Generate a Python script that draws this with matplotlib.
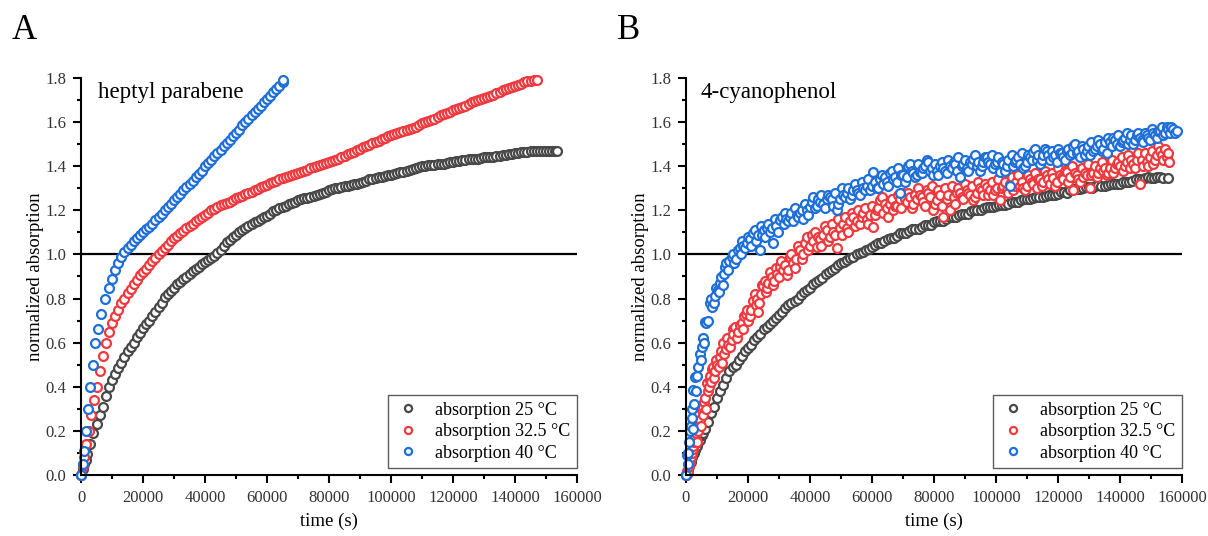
import numpy as np
import matplotlib
matplotlib.use("Agg")
import matplotlib.pyplot as plt

plt.rcParams['font.family'] = ['Liberation Serif', 'DejaVu Serif']

# ---------------- data (time in ks, normalized absorption) ----------------
# Panel A, 25 °C
a_gray_t = [0, 0.5, 1, 1.5, 2, 3, 4, 5, 6, 7, 8, 9, 10, 11, 12, 13, 14, 15, 16, 17, 18, 19, 20,
            21, 22, 23, 24, 25, 26, 27, 28, 29, 30, 31, 32, 33, 34, 35, 36, 37, 38, 39, 40, 41, 42,
            43, 44, 45, 46, 47, 48, 49,
            50, 51, 52, 53, 54, 55, 56, 57, 58, 59, 60, 61, 62, 63, 64, 65, 66, 67, 68, 69, 70,
            71, 72, 73, 74, 75, 76, 77, 78, 79, 80, 81, 82, 83, 84, 85, 86, 87, 88, 89, 90,
            91, 92, 93, 94, 95, 96, 97, 98, 99, 100, 101, 102, 103, 104, 105, 106, 107, 108,
            109, 110, 111, 112, 113, 114, 115, 116, 117, 118, 119, 120, 121, 122, 123, 124,
            125, 126, 127, 128, 129, 130, 131, 132, 133, 134, 135, 136, 137, 138, 139, 140,
            141, 142, 143, 144, 145, 146, 147, 148, 149, 150, 151, 152, 153, 153.5]
a_gray_y = [0, 0.025, 0.05, 0.07, 0.095, 0.14, 0.19, 0.23, 0.27, 0.31, 0.36, 0.40, 0.43, 0.46,
            0.485, 0.51, 0.535, 0.56, 0.58, 0.60, 0.625, 0.645, 0.665, 0.685, 0.70, 0.72, 0.74,
            0.76, 0.78, 0.805, 0.82, 0.835, 0.85, 0.865, 0.875, 0.89, 0.90, 0.91, 0.925, 0.935,
            0.945, 0.955, 0.965, 0.975, 0.985, 0.995, 1.005, 1.02, 1.04, 1.055, 1.065, 1.08,
            1.09, 1.10, 1.11, 1.12, 1.13, 1.14, 1.145, 1.15, 1.16, 1.17, 1.175, 1.185, 1.195,
            1.20, 1.21, 1.215, 1.22, 1.23, 1.235, 1.24, 1.245, 1.25, 1.255, 1.258, 1.26, 1.265,
            1.27, 1.275, 1.28, 1.285, 1.29, 1.295, 1.30, 1.30, 1.305, 1.31, 1.31, 1.315, 1.32,
            1.32, 1.325, 1.33, 1.335, 1.34, 1.34, 1.345, 1.35, 1.352, 1.355, 1.358, 1.36, 1.365,
            1.37, 1.372, 1.375, 1.38, 1.385, 1.388, 1.39, 1.395, 1.40, 1.402, 1.405, 1.405,
            1.405, 1.41, 1.41, 1.412, 1.415, 1.418, 1.42, 1.422, 1.425, 1.428, 1.43, 1.432,
            1.435, 1.435, 1.435, 1.438, 1.44, 1.44, 1.44, 1.443, 1.445, 1.448, 1.45, 1.452,
            1.455, 1.457, 1.46, 1.462, 1.465, 1.465, 1.465, 1.468, 1.47, 1.47, 1.47, 1.47,
            1.47, 1.47, 1.47, 1.47, 1.47]

# Panel A, 32.5 °C
a_red_t = [0, 0.5, 1, 1.7, 2.5, 3.3, 4.1, 5, 6, 7, 8, 9, 10, 11, 12, 13, 14, 15, 16, 17, 18, 19,
           20, 21, 22, 23, 24, 25, 26, 27, 28, 29,
           30, 31, 32, 33, 34, 35, 36, 37, 38, 39, 40, 41, 42, 43, 44, 45, 46, 47, 48, 49, 50,
           51, 52, 53, 54, 55, 56, 57, 58, 59, 60, 61, 62, 63, 64, 65, 66, 67, 68, 69, 70, 71,
           72, 73, 74, 75, 76, 77, 78, 79, 80, 81, 82, 83, 84, 85, 86, 87, 88, 89, 90, 91, 92,
           93, 94, 95, 96, 97, 98, 99, 100, 101, 102, 103, 104, 105, 106, 107, 108, 109, 110,
           111, 112, 113, 114, 115, 116, 117, 118, 119, 120, 121, 122, 123, 124, 125, 126, 127,
           128, 129, 130, 131, 132, 133, 134, 135, 136, 137, 138, 139, 140, 141, 142, 143, 144,
           145, 146, 147]
a_red_y = [0, 0.04, 0.08, 0.14, 0.20, 0.27, 0.34, 0.40, 0.47, 0.54, 0.60, 0.65, 0.69, 0.72, 0.75,
           0.78, 0.80, 0.825, 0.845, 0.865, 0.885, 0.905, 0.92, 0.935, 0.95, 0.97, 0.985, 1.0,
           1.015, 1.03, 1.045, 1.06,
           1.075, 1.085, 1.095, 1.108, 1.12, 1.13, 1.14, 1.15, 1.16, 1.17, 1.18, 1.19, 1.20,
           1.208, 1.215, 1.222, 1.23, 1.235, 1.24, 1.248, 1.255, 1.26, 1.265, 1.272, 1.28,
           1.285, 1.29, 1.298, 1.305, 1.31, 1.315, 1.322, 1.33, 1.335, 1.34, 1.345, 1.35, 1.355,
           1.36, 1.365, 1.37, 1.375, 1.38, 1.385, 1.39, 1.395, 1.40, 1.405, 1.41, 1.415, 1.42,
           1.425, 1.43, 1.435, 1.44, 1.448, 1.455, 1.46, 1.465, 1.472, 1.48, 1.485, 1.49, 1.498,
           1.505, 1.51, 1.515, 1.522, 1.53, 1.535, 1.54, 1.545, 1.55, 1.555, 1.56, 1.565, 1.57,
           1.575, 1.58, 1.588, 1.595, 1.60, 1.605, 1.61, 1.615, 1.622, 1.63, 1.635, 1.64, 1.648,
           1.655, 1.66, 1.665, 1.67, 1.675, 1.682, 1.69, 1.695, 1.70, 1.705, 1.71, 1.715, 1.72,
           1.725, 1.73, 1.738, 1.745, 1.75, 1.755, 1.76, 1.765, 1.77, 1.775, 1.78, 1.785, 1.788,
           1.79, 1.79]

# Panel A, 40 °C
a_blue_t = [0, 0.5, 1, 1.7, 2.3, 3, 3.8, 4.6, 5.5, 6.5, 7.9, 9, 10, 11, 12, 13, 14, 15, 16, 17,
            18, 19, 20, 21, 22, 23, 24, 25, 26, 27, 28, 29, 30, 31, 32, 33, 34, 35, 36, 37, 38,
            39, 40, 41, 42, 43, 44, 45, 46, 47, 48, 49, 50, 51, 52, 53, 54, 55, 56, 57, 58, 59,
            60, 61, 62, 63, 64, 65, 65.3]
a_blue_y = [0, 0.05, 0.11, 0.20, 0.30, 0.40, 0.50, 0.60, 0.66, 0.73, 0.80, 0.85, 0.89, 0.93,
            0.96, 0.99, 1.01, 1.03, 1.045, 1.06, 1.075, 1.09, 1.10, 1.115, 1.125, 1.14, 1.155,
            1.17, 1.185, 1.20, 1.215, 1.23, 1.245, 1.26, 1.275, 1.29, 1.305, 1.32, 1.335, 1.35,
            1.365, 1.38, 1.40, 1.415, 1.43, 1.445, 1.46, 1.475, 1.49, 1.505, 1.52, 1.535, 1.55,
            1.565, 1.585, 1.60, 1.615, 1.63, 1.645, 1.66, 1.675, 1.69, 1.705, 1.72, 1.735, 1.75,
            1.765, 1.78, 1.79]

# Panel B, 25 °C
b_gray_t = [0, 0.5, 1, 1.5, 2, 2.5, 3, 3.5, 4, 4.5, 5, 5.5, 6, 7, 8, 9, 10, 11, 12, 13, 14, 15,
            16, 17, 18, 19, 20, 21, 22, 23, 24, 25, 26, 27, 28, 29, 30, 31, 32, 33, 34, 35, 36,
            37, 38, 39, 40, 41, 42, 43, 44, 45, 46, 47, 48, 49, 50, 51, 52, 53, 54, 55, 56, 57,
            58, 59, 60, 62, 64, 66, 68, 70, 72, 74, 76, 78, 80, 82, 84, 86, 88, 90, 92, 94, 96,
            98, 100, 102, 104, 106, 108, 110, 112, 114, 116, 118, 120, 122, 124, 126, 128, 130,
            132, 134, 136, 138, 140, 142, 144, 146, 148, 150, 152, 154, 155.5,
            61, 63, 65, 67, 69, 71, 73, 75, 77, 79, 81, 83, 85, 87, 89, 91, 93, 95, 97, 99, 101,
            103, 105, 107, 109, 111, 113, 115, 117, 119, 121, 123, 125, 127, 129, 131, 133, 135,
            137, 139, 141, 143, 145, 147, 149, 151, 153]
b_gray_y = [0, 0.02, 0.04, 0.06, 0.08, 0.10, 0.115, 0.13, 0.15, 0.16, 0.18, 0.19, 0.21, 0.24,
            0.28, 0.31, 0.35, 0.38, 0.41, 0.44, 0.47, 0.49, 0.50, 0.52, 0.54, 0.56, 0.575, 0.59,
            0.61, 0.625, 0.64, 0.66, 0.67, 0.685, 0.70, 0.71, 0.725, 0.74, 0.755, 0.77, 0.78,
            0.79, 0.80, 0.815, 0.83, 0.84, 0.85, 0.865, 0.875, 0.885, 0.895, 0.91, 0.92, 0.93,
            0.94, 0.95, 0.96, 0.965, 0.975, 0.985, 0.99, 1.0, 1.005, 1.01, 1.02, 1.025, 1.035,
            1.05, 1.06, 1.075, 1.085, 1.095, 1.105, 1.115, 1.125, 1.135, 1.145, 1.15, 1.16, 1.17,
            1.18, 1.185, 1.195, 1.20, 1.21, 1.215, 1.22, 1.225, 1.23, 1.24, 1.245, 1.25, 1.255,
            1.26, 1.265, 1.27, 1.275, 1.285, 1.29, 1.295, 1.30, 1.305, 1.31, 1.31, 1.315, 1.32,
            1.32, 1.33, 1.335, 1.34, 1.345, 1.345, 1.35, 1.345, 1.345,
            1.045, 1.05, 1.07, 1.075, 1.095, 1.095, 1.115, 1.115, 1.135, 1.135, 1.15, 1.15, 1.17,
            1.17, 1.185, 1.185, 1.20, 1.20, 1.215, 1.215, 1.225, 1.225, 1.24, 1.24, 1.25, 1.25,
            1.26, 1.26, 1.27, 1.27, 1.285, 1.28, 1.295, 1.295, 1.305, 1.30, 1.315, 1.31, 1.32,
            1.32, 1.33, 1.33, 1.34, 1.34, 1.35, 1.345, 1.35]

# Panel B, 32.5 °C
b_red_t = [0, 0.7, 1.3, 1.8, 2.4, 3, 3.5, 4, 4.6, 5.1, 5.6, 6.2, 6.7, 7.3, 7.8, 8.8, 9.4, 10, 11,
           11.5, 12, 12.8, 13.6, 14.7, 15.3, 15.8, 16.9, 18, 18.8, 19.6, 20.5, 21.7, 22.5, 23.3,
           24.1, 24.9, 25.8, 26.6, 27.6, 28.5, 29.4, 30.3, 31.2, 32.5, 33.5, 34.5, 35.6, 36.8,
           37.8, 38.9, 40, 41.1, 42.2, 43.2, 44.3, 45.4, 46.5, 47.5, 48.6, 49.7, 50.7, 51.8,
           52.9, 54, 55.1, 56.1, 57.2, 58.3, 59.4, 60.4, 61.5, 62.6, 63.7, 64.7, 65.8, 66.9, 68,
           69, 70.1, 71.2, 72.3, 73.3, 74.4, 75.5, 76.6, 77.6, 78.7, 79.8, 80.9, 82, 83, 84.1,
           85.2, 86.3, 87.3, 88.4, 89.5, 90.6, 91.6, 92.7, 93.8, 94.8, 95.9, 97, 98.1, 99.1,
           100.2, 101.3, 102.4, 103.4, 104.5, 105.6, 106.6, 107.7, 108.8, 109.9, 110.9, 112,
           113.1, 114.2, 115.2, 116.4, 117.4, 118.5, 119.6, 120.6, 121.7, 122.8, 123.9, 124.9,
           126, 127.1, 128.2, 129.3, 130.3, 131.4, 132.5, 133.5, 134.6, 135.7, 136.8, 137.8,
           138.9, 140, 141.1, 142.2, 143.2, 144.3, 145.4, 146.5, 147.5, 148.6, 149.7, 150.7,
           151.8, 152.9, 154, 155, 155.8]
b_red_y = [0, 0.01, 0.06, 0.10, 0.13, 0.17, 0.15, 0.20, 0.25, 0.295, 0.27, 0.35, 0.415, 0.40,
           0.45, 0.49, 0.47, 0.50, 0.536, 0.51, 0.60, 0.57, 0.59, 0.61, 0.64, 0.67, 0.65, 0.69,
           0.72, 0.75, 0.72, 0.79, 0.77, 0.74, 0.82, 0.855, 0.83, 0.87, 0.90, 0.88, 0.91, 0.945,
           0.93, 0.905, 0.99, 0.96, 0.98, 1.02, 1.0, 1.08, 1.04, 1.06, 1.035, 1.07, 1.09, 1.11,
           1.08, 1.10, 1.028, 1.12, 1.14, 1.12, 1.15, 1.17, 1.15, 1.14, 1.186, 1.16, 1.18,
           1.126, 1.20, 1.246, 1.19, 1.21, 1.23, 1.20, 1.22, 1.25, 1.277, 1.24, 1.26, 1.23,
           1.25, 1.27, 1.24, 1.29, 1.26, 1.20, 1.246, 1.27, 1.17, 1.25, 1.20, 1.26, 1.28,
           1.277, 1.25, 1.29, 1.27, 1.246, 1.28, 1.30, 1.27, 1.307, 1.29, 1.27, 1.30, 1.246,
           1.31, 1.29, 1.32, 1.29, 1.33, 1.31, 1.30, 1.31, 1.34, 1.32, 1.30, 1.34, 1.33, 1.36,
           1.32, 1.345, 1.33, 1.36, 1.34, 1.375, 1.35, 1.29, 1.36, 1.33, 1.35, 1.36, 1.30,
           1.37, 1.35, 1.39, 1.38, 1.36, 1.39, 1.37, 1.41, 1.40, 1.38, 1.42, 1.39, 1.41, 1.43,
           1.32, 1.40, 1.42, 1.44, 1.41, 1.45, 1.47, 1.43, 1.44, 1.42]
b_red_t2 = [0.3, 1.0, 1.6, 2.1, 2.7, 3.3, 4.3, 4.9, 5.4, 5.9, 6.4, 7.0, 7.6, 8.2, 8.5, 9.1, 9.7,
            10.5, 11.2, 12.4, 13.2, 14.1, 15.0, 16.3, 17.4, 18.4, 19.2, 20.1, 21.1, 22.1, 22.9,
            23.7, 24.5, 25.4, 26.2, 27.1, 28.0, 28.9, 29.9, 30.8, 31.8, 33.0, 34.0, 35.0, 36.2,
            37.3, 38.3, 39.4, 40.5, 41.6, 42.7, 43.7, 44.8, 45.9, 47.0, 48.0, 49.1, 50.2, 51.2,
            52.4, 53.5, 54.5, 55.6, 56.7, 57.7, 58.8, 59.9, 60.9, 62.0, 63.1, 64.2, 65.2, 66.3,
            67.4, 68.5, 69.5, 70.6, 71.7, 72.8, 73.8, 74.9, 76.0, 77.1, 78.1, 79.2, 80.3, 81.4,
            82.5, 83.5, 84.6, 85.7, 86.8, 87.8, 88.9, 90.0, 91.1, 92.2, 93.2, 94.3, 95.4, 96.4,
            97.5, 98.6, 99.7, 100.7, 101.8, 102.9, 104.0, 105.0, 106.1, 107.2, 108.3, 109.4,
            110.4, 111.5, 112.6, 113.6, 114.7, 115.8, 116.9, 118.0, 119.0, 120.1, 121.2, 122.3,
            123.3, 124.4, 125.5, 126.5, 127.6, 128.7, 129.8, 130.8, 131.9, 133.0, 134.1, 135.1,
            136.2, 137.3, 138.4, 139.4, 140.5, 141.6, 142.7, 143.7, 144.8, 145.9, 147.0, 148.0,
            149.1, 150.2, 151.3, 152.3, 153.4, 154.5, 155.4]
b_red_y2 = [0.02, 0.04, 0.08, 0.12, 0.15, 0.19, 0.23, 0.22, 0.31, 0.33, 0.30, 0.38, 0.43, 0.42,
            0.48, 0.44, 0.52, 0.49, 0.56, 0.55, 0.62, 0.58, 0.66, 0.62, 0.68, 0.66, 0.73, 0.70,
            0.75, 0.82, 0.80, 0.78, 0.86, 0.88, 0.85, 0.92, 0.86, 0.94, 0.90, 0.97, 0.95, 0.93,
            1.00, 0.94, 1.04, 0.98, 1.05, 1.02, 1.09, 1.10, 1.08, 1.04, 1.13, 1.06, 1.14, 1.09,
            1.16, 1.09, 1.17, 1.10, 1.19, 1.13, 1.20, 1.17, 1.21, 1.14, 1.22, 1.18, 1.21, 1.26,
            1.23, 1.17, 1.25, 1.22, 1.27, 1.21, 1.25, 1.28, 1.21, 1.27, 1.30, 1.26, 1.22, 1.28,
            1.31, 1.23, 1.29, 1.22, 1.30, 1.27, 1.31, 1.23, 1.30, 1.26, 1.32, 1.28, 1.31, 1.26,
            1.33, 1.29, 1.32, 1.27, 1.33, 1.29, 1.34, 1.30, 1.33, 1.28, 1.35, 1.31, 1.36, 1.33,
            1.29, 1.36, 1.33, 1.37, 1.34, 1.31, 1.38, 1.34, 1.37, 1.31, 1.39, 1.35, 1.38, 1.33,
            1.40, 1.37, 1.34, 1.39, 1.37, 1.41, 1.36, 1.40, 1.37, 1.42, 1.39, 1.37, 1.43, 1.39,
            1.42, 1.44, 1.40, 1.45, 1.43, 1.39, 1.46, 1.43, 1.46, 1.40, 1.47, 1.43, 1.49, 1.45,
            1.48, 1.46]

# Panel B, 40 °C
b_blue_t = [0, 0.2, 0.8, 1.3, 1.8, 2.1, 2.4, 2.7, 2.9, 3.3, 4.0, 4.5, 4.8, 5.6, 6.1, 6.6, 7.7,
            8.4, 9.4, 10.2, 11, 11.8, 12.6, 13.5, 14.7, 15.5, 16.9, 17.8, 18.5, 19.6, 20.5, 21.7,
            22.6, 23.9, 24.5, 25.2, 26, 27, 28.2, 29, 30.3, 31.5, 32.4, 33.5, 34.6, 35.7, 36.8,
            37.9, 39, 40, 41.1, 42.2, 43.2, 44.3, 45.4, 46.5, 47.5, 48.6, 49.7, 50.7, 51.8, 53,
            54, 55.1, 56.2, 57.2, 58.3, 59.4, 60.4, 61.5, 62.6, 63.7, 64.7, 65.8, 66.9, 68, 69,
            70.1, 71.2, 72.3, 73.3, 74.4, 75.5, 76.6, 77.6, 78.7, 79.8, 80.9, 82, 83, 84.1, 85.2,
            86.3, 87.3, 88.4, 89.5, 90.6, 91.6, 92.7, 93.8, 94.8, 95.9, 97, 98.1, 99.1, 100.2,
            101.3, 102.4, 103.4, 104.5, 105.6, 106.6, 107.7, 108.8, 109.9, 110.9, 112, 113.1,
            114.2, 115.2, 116.4, 117.4, 118.5, 119.6, 120.6, 121.7, 122.8, 123.9, 124.9, 126,
            127.1, 128.2, 129.3, 130.3, 131.4, 132.5, 133.5, 134.6, 135.7, 136.8, 137.8, 138.9,
            140, 141.1, 142.2, 143.2, 144.3, 145.4, 146.5, 147.5, 148.6, 149.7, 150.7, 151.8,
            152.9, 154, 155, 156, 157, 158.3]
b_blue_y = [0, 0.09, 0.10, 0.20, 0.26, 0.21, 0.385, 0.32, 0.445, 0.38, 0.49, 0.55, 0.52, 0.62,
            0.695, 0.69, 0.78, 0.76, 0.81, 0.84, 0.87, 0.86, 0.945, 0.93, 0.99, 0.96, 1.02, 1.0,
            1.04, 1.05, 1.07, 1.096, 1.06, 1.02, 1.09, 1.11, 1.12, 1.10, 1.05, 1.13, 1.156, 1.14,
            1.16, 1.17, 1.15, 1.18, 1.186, 1.16, 1.20, 1.216, 1.26, 1.22, 1.24, 1.23, 1.25, 1.26,
            1.22, 1.20, 1.25, 1.27, 1.28, 1.25, 1.29, 1.29, 1.27, 1.30, 1.31, 1.29, 1.375, 1.30,
            1.34, 1.32, 1.33, 1.37, 1.34, 1.33, 1.28, 1.36, 1.35, 1.41, 1.37, 1.36, 1.375, 1.39,
            1.43, 1.38, 1.36, 1.38, 1.40, 1.39, 1.37, 1.40, 1.42, 1.38, 1.35, 1.41, 1.39, 1.42,
            1.435, 1.40, 1.38, 1.42, 1.44, 1.41, 1.39, 1.42, 1.375, 1.41, 1.40, 1.31, 1.40, 1.43,
            1.41, 1.39, 1.42, 1.44, 1.466, 1.43, 1.41, 1.45, 1.47, 1.43, 1.44, 1.42, 1.46, 1.44,
            1.47, 1.45, 1.49, 1.46, 1.44, 1.48, 1.47, 1.45, 1.47, 1.49, 1.50, 1.48, 1.46, 1.51,
            1.53, 1.50, 1.49, 1.52, 1.55, 1.52, 1.50, 1.54, 1.53, 1.51, 1.54, 1.52, 1.55, 1.53,
            1.56, 1.54, 1.58, 1.55, 1.57, 1.56]
b_blue_t2 = [0.5, 1.0, 1.5, 2.0, 3.6, 5.2, 5.9, 7.0, 8.0, 8.9, 9.8, 10.6, 11.4, 12.2, 13.0, 14.0,
             15.1, 16.2, 17.3, 18.2, 19.0, 20.0, 21.1, 22.1, 23.2, 24.2, 25.6, 26.5, 27.6, 28.6,
             29.6, 30.9, 31.9, 33.0, 34.0, 35.1, 36.2, 37.3, 38.4, 39.5, 40.5, 41.6, 42.7, 43.7,
             44.8, 45.9, 47.0, 48.0, 49.1, 50.2, 51.2, 52.4, 53.5, 54.5, 55.6, 56.7, 57.7, 58.8,
             59.9, 60.9, 62.0, 63.1, 64.2, 65.2, 66.3, 67.4, 68.5, 69.5, 70.6, 71.7, 72.8, 73.8,
             74.9, 76.0, 77.1, 78.1, 79.2, 80.3, 81.4, 82.5, 83.5, 84.6, 85.7, 86.8, 87.8, 88.9,
             90.0, 91.1, 92.2, 93.2, 94.3, 95.4, 96.4, 97.5, 98.6, 99.7, 100.7, 101.8, 102.9,
             104.0, 105.0, 106.1, 107.2, 108.3, 109.4, 110.4, 111.5, 112.6, 113.6, 114.7, 115.8,
             116.9, 118.0, 119.0, 120.1, 121.2, 122.3, 123.3, 124.4, 125.5, 126.5, 127.6, 128.7,
             129.8, 130.8, 131.9, 133.0, 134.1, 135.1, 136.2, 137.3, 138.4, 139.4, 140.5, 141.6,
             142.7, 143.7, 144.8, 145.9, 147.0, 148.0, 149.1, 150.2, 151.3, 152.3, 153.4, 154.5,
             155.6, 156.6, 157.6]
b_blue_y2 = [0.05, 0.15, 0.22, 0.30, 0.45, 0.58, 0.60, 0.70, 0.80, 0.78, 0.85, 0.83, 0.90, 0.91,
             0.96, 0.97, 1.00, 0.98, 1.03, 1.06, 1.03, 1.08, 1.04, 1.11, 1.09, 1.13, 1.08, 1.14,
             1.12, 1.16, 1.10, 1.17, 1.19, 1.15, 1.19, 1.21, 1.17, 1.20, 1.23, 1.18, 1.24, 1.21,
             1.25, 1.27, 1.21, 1.27, 1.25, 1.28, 1.23, 1.30, 1.26, 1.30, 1.27, 1.32, 1.28, 1.33,
             1.29, 1.34, 1.31, 1.33, 1.30, 1.36, 1.35, 1.31, 1.38, 1.35, 1.39, 1.36, 1.33, 1.40,
             1.38, 1.35, 1.41, 1.37, 1.40, 1.42, 1.39, 1.41, 1.36, 1.42, 1.38, 1.43, 1.39, 1.41,
             1.44, 1.40, 1.43, 1.38, 1.41, 1.45, 1.42, 1.40, 1.44, 1.42, 1.45, 1.41, 1.44, 1.42,
             1.38, 1.43, 1.45, 1.42, 1.44, 1.46, 1.40, 1.45, 1.43, 1.48, 1.45, 1.43, 1.48, 1.45,
             1.47, 1.45, 1.48, 1.46, 1.43, 1.48, 1.46, 1.50, 1.47, 1.49, 1.45, 1.49, 1.51, 1.48,
             1.52, 1.47, 1.51, 1.53, 1.49, 1.52, 1.54, 1.51, 1.53, 1.50, 1.54, 1.52, 1.55, 1.52,
             1.55, 1.53, 1.57, 1.54, 1.56, 1.58, 1.55, 1.57, 1.58, 1.55]

labels = ['absorption 25 °C', 'absorption 32.5 °C', 'absorption 40 °C']
colors = ['#484848', '#ee3a3f', '#1f6fd8']


def merged(t1, y1, t2=(), y2=()):
    t = np.concatenate([np.asarray(t1, float), np.asarray(t2, float)])
    y = np.concatenate([np.asarray(y1, float), np.asarray(y2, float)])
    order = np.argsort(t, kind='stable')
    return t[order] * 1000, y[order]


panels = [
    ('A', 'heptyl parabene', [merged(a_gray_t, a_gray_y), merged(a_red_t, a_red_y),
                              merged(a_blue_t, a_blue_y)]),
    ('B', '4-cyanophenol', [merged(b_gray_t, b_gray_y), merged(b_red_t, b_red_y, b_red_t2, b_red_y2),
                            merged(b_blue_t, b_blue_y, b_blue_t2, b_blue_y2)]),
]
xticks = [0, 20000, 40000, 60000, 80000, 100000, 120000, 140000, 160000]
yticks = [0.0, 0.2, 0.4, 0.6, 0.8, 1.0, 1.2, 1.4, 1.6, 1.8]

# ---------------- figure ----------------
fig = plt.figure(figsize=(12.08, 5.36), dpi=100)
W, H = 1208, 536
lefts = [81, 686]
letter_x = [12, 617]

for i, (letter, title, series) in enumerate(panels):
    ax = fig.add_axes([lefts[i] / W, (H - 475) / H, 496 / W, 397 / H])
    for (t, y), c, lab in zip(series, colors, labels):
        ax.plot(t, y, linestyle='none', marker='o', ms=6.4, mew=1.6,
                mec=c, mfc='white', label=lab, clip_on=False)
    ax.axhline(1.0, color='black', lw=1.6, zorder=1)
    ax.set_xlim(0, 160000)
    ax.set_ylim(0, 1.8)
    ax.set_xticks(xticks)
    ax.set_xticklabels([str(v) for v in xticks])
    ax.set_yticks(yticks)
    ax.set_yticklabels([f'{v:.1f}' for v in yticks])
    ax.set_xticks(np.arange(10000, 160000, 20000), minor=True)
    ax.set_yticks(np.arange(0.1, 1.8, 0.2), minor=True)
    for s in ['top', 'right']:
        ax.spines[s].set_visible(False)
    for s in ['left', 'bottom']:
        ax.spines[s].set_linewidth(1.5)
    ax.tick_params(which='major', direction='out', length=5.5, width=1.5,
                   labelsize=12, pad=5, colors='black', labelcolor='#333333')
    ax.tick_params(which='minor', direction='out', length=3, width=1.5)
    ax.set_xlabel('time (s)', fontsize=13.5)
    ax.set_ylabel('normalized absorption', fontsize=13.5)
    ax.xaxis.set_label_coords(0.5, -0.095)
    ax.yaxis.set_label_coords(-0.075, 0.5)
    ax.text(0.035 if i == 0 else 0.03, 0.99, title, transform=ax.transAxes,
            fontsize=16.5, va='top', ha='left')
    leg = ax.legend(loc='lower right', bbox_to_anchor=(1.0, 0.018), borderaxespad=0,
                    fontsize=13, frameon=True, fancybox=False, handlelength=1.6,
                    handletextpad=0.7, borderpad=0.35, labelspacing=0.25, markerscale=0.8)
    leg.get_frame().set_edgecolor('#333333')
    leg.get_frame().set_linewidth(1.0)
    fig.text(letter_x[i] / W, 1 - 14 / H, letter, fontsize=25, va='top', ha='left')

fig.savefig('out.png', dpi=100)
